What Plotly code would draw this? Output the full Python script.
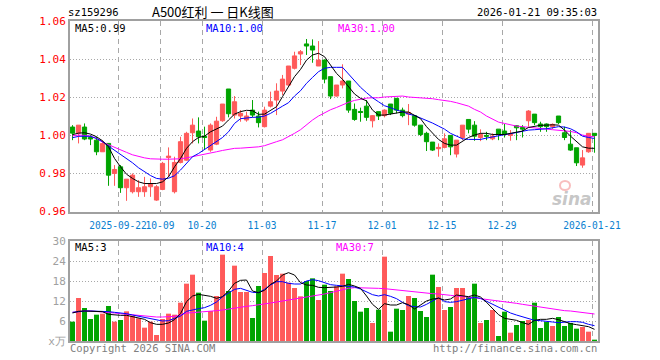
import plotly.graph_objects as go

# ---------------- data ----------------
dates = (
    ["2025-09-%s" % d for d in ["10", "11", "12", "15", "16", "17", "18", "19", "22", "23", "24", "25", "26", "29", "30"]]
    + ["2025-10-%s" % d for d in ["09", "10", "13", "14", "15", "16", "17", "20", "21", "22", "23", "24", "27", "28", "29", "30", "31"]]
    + ["2025-11-%s" % d for d in ["03", "04", "05", "06", "07", "10", "11", "12", "13", "14", "17", "18", "19", "20", "21", "24", "25", "26", "27", "28"]]
    + ["2025-12-%s" % d for d in ["01", "02", "03", "04", "05", "08", "09", "10", "11", "12", "15", "16", "17", "18", "19", "22", "23", "24", "25", "26", "29", "30", "31"]]
    + ["2026-01-%s" % d for d in ["05", "06", "07", "08", "09", "12", "13", "14", "15", "16", "19", "20", "21"]]
)

open_ = [1.0044, 1.0012, 1.0044, 0.9989, 0.9975, 0.9914, 0.9958, 0.9800, 0.9835, 0.9725,
         0.9704, 0.9704, 0.9704, 0.9730, 0.9660, 0.9716, 0.9884, 0.9704, 0.9858, 0.9870,
         1.0014, 1.0023, 0.9996, 0.9923, 0.9954, 1.0077, 1.0244, 1.0107, 1.0102, 1.0081,
         1.0133, 1.0102, 1.0046, 1.0154, 1.0186, 1.0233, 1.0265, 1.0353, 1.0428, 1.0481,
         1.0470, 1.0365, 1.0396, 1.0309, 1.0207, 1.0265, 1.0286, 1.0137, 1.0126, 1.0154,
         1.0077, 1.0125, 1.0104, 1.0165, 1.0195, 1.0133, 1.0112, 1.0104, 1.0054, 1.0011,
         0.9965, 0.9930, 0.9937, 1.0000, 0.9902, 0.9989, 1.0084, 1.0054, 0.9989, 1.0000,
         0.9982, 1.0033, 1.0023, 1.0000, 1.0051, 1.0042, 1.0077, 1.0112, 1.0060, 1.0060,
         1.0046, 1.0102, 1.0014, 0.9954, 0.9935, 0.9844, 0.9914, 1.0011]
high = [1.0054, 1.0054, 1.0063, 1.0002, 0.9993, 0.9975, 0.9958, 0.9844, 0.9844, 0.9770,
        0.9800, 0.9765, 0.9782, 0.9774, 0.9739, 0.9861, 0.9937, 0.9888, 0.9993, 1.0019,
        1.0089, 1.0095, 1.0046, 1.0063, 1.0098, 1.0165, 1.0244, 1.0207, 1.0133, 1.0125,
        1.0186, 1.0125, 1.0151, 1.0230, 1.0274, 1.0318, 1.0365, 1.0440, 1.0449, 1.0507,
        1.0505, 1.0496, 1.0400, 1.0309, 1.0265, 1.0374, 1.0286, 1.0168, 1.0146, 1.0186,
        1.0107, 1.0125, 1.0137, 1.0165, 1.0195, 1.0146, 1.0165, 1.0107, 1.0054, 1.0019,
        0.9965, 0.9958, 1.0011, 1.0000, 0.9975, 1.0054, 1.0084, 1.0075, 1.0032, 1.0019,
        1.0011, 1.0033, 1.0060, 1.0028, 1.0054, 1.0054, 1.0133, 1.0112, 1.0072, 1.0063,
        1.0063, 1.0102, 1.0046, 1.0028, 0.9935, 0.9923, 1.0011, 1.0011]
low = [0.9975, 0.9958, 0.9975, 0.9949, 0.9896, 0.9914, 0.9735, 0.9735, 0.9698, 0.9656,
       0.9695, 0.9677, 0.9677, 0.9677, 0.9656, 0.9712, 0.9782, 0.9695, 0.9853, 0.9867,
       0.9958, 0.9958, 0.9923, 0.9914, 0.9949, 1.0072, 1.0095, 1.0089, 1.0072, 1.0072,
       1.0095, 1.0042, 1.0042, 1.0147, 1.0107, 1.0212, 1.0261, 1.0347, 1.0370, 1.0423,
       1.0382, 1.0365, 1.0274, 1.0191, 1.0204, 1.0247, 1.0119, 1.0077, 1.0072, 1.0077,
       1.0042, 1.0081, 1.0095, 1.0107, 1.0116, 1.0095, 1.0054, 1.0046, 0.9996, 0.9918,
       0.9918, 0.9888, 0.9932, 0.9896, 0.9884, 0.9975, 1.0011, 0.9972, 0.9970, 0.9975,
       0.9975, 0.9975, 0.9989, 0.9972, 0.9975, 0.9989, 1.0046, 1.0054, 1.0019, 1.0019,
       1.0033, 1.0060, 0.9975, 0.9919, 0.9839, 0.9830, 0.9909, 0.9909]
close = [1.0012, 1.0054, 0.9981, 0.9981, 0.9914, 0.9958, 0.9791, 0.9821, 0.9725, 0.9770,
         0.9791, 0.9725, 0.9730, 0.9744, 0.9730, 0.9853, 0.9891, 0.9858, 0.9967, 1.0011,
         1.0054, 0.9993, 0.9989, 1.0054, 1.0075, 1.0165, 1.0114, 1.0177, 1.0116, 1.0102,
         1.0107, 1.0067, 1.0133, 1.0177, 1.0233, 1.0296, 1.0365, 1.0418, 1.0440, 1.0470,
         1.0449, 1.0396, 1.0296, 1.0207, 1.0265, 1.0286, 1.0133, 1.0084, 1.0121, 1.0095,
         1.0104, 1.0102, 1.0133, 1.0116, 1.0133, 1.0104, 1.0121, 1.0054, 1.0005, 0.9967,
         0.9923, 0.9937, 0.9982, 0.9940, 0.9975, 1.0054, 1.0033, 0.9996, 1.0005, 0.9996,
         0.9996, 1.0005, 1.0005, 1.0005, 1.0040, 1.0033, 1.0128, 1.0067, 1.0046, 1.0046,
         1.0058, 1.0067, 0.9989, 0.9923, 0.9856, 0.9882, 1.0011, 1.0000]

ma5 = [1.0004, 1.0012, 1.0014, 1.0007, 0.9993, 0.9972, 0.9940, 0.9879, 0.9835, 0.9796,
       0.9774, 0.9756, 0.9747, 0.9747, 0.9747, 0.9756, 0.9782, 0.9835, 0.9879, 0.9932,
       0.9967, 0.9989, 0.9996, 1.0019, 1.0033, 1.0049, 1.0081, 1.0112, 1.0125, 1.0132,
       1.0130, 1.0111, 1.0112, 1.0130, 1.0151, 1.0204, 1.0256, 1.0309, 1.0347, 1.0396,
       1.0423, 1.0432, 1.0414, 1.0370, 1.0326, 1.0295, 1.0256, 1.0218, 1.0195, 1.0182,
       1.0133, 1.0107, 1.0107, 1.0112, 1.0119, 1.0123, 1.0123, 1.0107, 1.0088, 1.0046,
       1.0011, 0.9979, 0.9958, 0.9949, 0.9949, 0.9970, 0.9989, 1.0002, 1.0011, 1.0011,
       1.0005, 1.0005, 1.0005, 1.0011, 1.0016, 1.0023, 1.0042, 1.0049, 1.0053, 1.0054,
       1.0056, 1.0054, 1.0028, 0.9996, 0.9967, 0.9940, 0.9933, 0.9932]
ma10 = [0.9988, 0.9995, 0.9996, 0.9995, 0.9984, 0.9967, 0.9944, 0.9923, 0.9900, 0.9879,
        0.9856, 0.9830, 0.9809, 0.9789, 0.9774, 0.9770, 0.9775, 0.9788, 0.9818, 0.9853,
        0.9888, 0.9905, 0.9926, 0.9949, 0.9970, 0.9989, 1.0019, 1.0063, 1.0088, 1.0093,
        1.0095, 1.0096, 1.0102, 1.0116, 1.0133, 1.0154, 1.0172, 1.0207, 1.0235, 1.0274,
        1.0305, 1.0335, 1.0353, 1.0358, 1.0358, 1.0358, 1.0323, 1.0288, 1.0253, 1.0225,
        1.0198, 1.0177, 1.0156, 1.0146, 1.0133, 1.0125, 1.0112, 1.0105, 1.0093, 1.0081,
        1.0065, 1.0049, 1.0033, 1.0011, 0.9996, 0.9982, 0.9979, 0.9979, 0.9979, 0.9986,
        0.9993, 0.9998, 1.0004, 1.0009, 1.0016, 1.0023, 1.0028, 1.0030, 1.0032, 1.0035,
        1.0040, 1.0046, 1.0044, 1.0035, 1.0019, 0.9996, 0.9989, 0.9984]
ma30 = [0.9998, 1.0002, 1.0000, 0.9996, 0.9984, 0.9965, 0.9951, 0.9939, 0.9925, 0.9911,
        0.9898, 0.9889, 0.9882, 0.9877, 0.9875, 0.9875, 0.9875, 0.9875, 0.9877, 0.9882,
        0.9888, 0.9893, 0.9898, 0.9905, 0.9914, 0.9921, 0.9926, 0.9932, 0.9933, 0.9935,
        0.9937, 0.9940, 0.9946, 0.9958, 0.9967, 0.9977, 0.9993, 1.0011, 1.0030, 1.0056,
        1.0081, 1.0102, 1.0119, 1.0135, 1.0147, 1.0161, 1.0174, 1.0184, 1.0191, 1.0196,
        1.0198, 1.0198, 1.0202, 1.0204, 1.0207, 1.0207, 1.0202, 1.0200, 1.0198, 1.0196,
        1.0193, 1.0188, 1.0184, 1.0179, 1.0172, 1.0165, 1.0154, 1.0137, 1.0123, 1.0102,
        1.0084, 1.0070, 1.0063, 1.0054, 1.0049, 1.0046, 1.0042, 1.0039, 1.0035, 1.0033,
        1.0030, 1.0028, 1.0026, 1.0021, 1.0014, 1.0002, 0.9996, 0.9993]

volume = [5.8, 12.9, 9.9, 6.6, 7.9, 8.2, 10.5, 5.8, 6.3, 8.9,
          7.6, 6.8, 4.0, 5.8, 1.8, 6.6, 8.2, 7.9, 11.5, 17.2,
          19.9, 14.5, 6.1, 9.0, 13.5, 25.9, 15.0, 22.6, 14.7, 14.7,
          6.9, 16.5, 20.4, 25.5, 19.8, 20.2, 17.5, 15.9, 13.4, 18.0,
          18.8, 12.3, 16.9, 15.0, 16.4, 20.2, 18.6, 12.0, 8.8, 9.9,
          5.4, 9.4, 25.3, 2.8, 9.7, 9.3, 13.5, 12.9, 9.0, 7.2,
          19.9, 16.2, 9.3, 10.2, 15.9, 15.9, 13.2, 17.2, 5.4, 6.3,
          9.3, 1.5, 8.8, 2.5, 4.8, 6.0, 6.3, 11.5, 3.9, 5.7,
          4.5, 7.2, 4.5, 5.4, 3.7, 4.2, 2.8, 0.4]
vma5 = [8.4, 8.9, 9.0, 9.0, 9.0, 8.8, 8.0, 7.8, 7.7, 7.7,
        7.3, 6.9, 6.5, 5.5, 5.0, 5.0, 5.4, 6.4, 8.2, 11.8,
        13.5, 14.0, 13.7, 13.4, 12.8, 13.3, 15.0, 17.3, 18.2, 18.3,
        15.0, 14.5, 15.2, 17.0, 18.0, 19.8, 20.5, 19.8, 17.5, 16.8,
        16.7, 16.1, 16.0, 16.0, 16.2, 16.4, 17.0, 16.5, 15.8, 13.5,
        11.0, 9.5, 11.2, 10.8, 10.8, 11.5, 10.9, 9.6, 10.8, 12.0,
        12.6, 12.8, 12.3, 12.6, 13.8, 13.5, 13.3, 13.8, 13.2, 11.6,
        9.7, 7.9, 6.8, 6.4, 6.2, 5.5, 5.0, 6.2, 6.5, 6.5,
        6.8, 6.4, 5.8, 5.2, 4.9, 4.7, 4.3, 3.5]
vma10 = [8.6, 8.9, 9.0, 9.0, 9.0, 8.9, 8.8, 8.6, 8.5, 8.2,
         7.8, 7.4, 7.0, 6.6, 6.2, 6.0, 6.1, 6.8, 7.5, 8.9,
         9.4, 9.7, 10.0, 10.7, 11.7, 13.3, 14.4, 15.5, 15.8, 15.2,
         14.6, 14.5, 15.5, 16.8, 17.8, 17.8, 17.3, 17.1, 17.1, 18.0,
         18.4, 18.1, 17.4, 16.9, 16.7, 16.6, 16.5, 16.2, 15.6, 14.7,
         13.9, 13.5, 13.9, 13.4, 12.7, 11.6, 10.6, 10.3, 10.2, 11.0,
         11.9, 13.0, 11.8, 11.6, 11.8, 12.3, 12.8, 13.1, 12.8, 11.9,
         11.0, 10.3, 9.3, 8.4, 7.8, 7.2, 6.8, 6.2, 6.1, 6.0,
         5.7, 5.5, 5.7, 5.8, 5.8, 5.6, 5.0, 4.6]
vma30 = [8.6, 8.9, 9.0, 9.0, 8.9, 8.8, 8.6, 8.4, 8.2, 8.0,
         7.8, 7.6, 7.4, 7.3, 7.2, 7.2, 7.2, 7.4, 7.8, 8.4,
         8.5, 8.6, 8.7, 8.9, 9.1, 9.3, 9.6, 10.0, 10.2, 10.4,
         10.6, 10.8, 11.1, 11.4, 11.7, 12.0, 12.2, 12.4, 12.7, 13.0,
         13.4, 13.7, 14.1, 14.5, 15.0, 15.4, 15.8, 16.0, 16.0, 15.9,
         15.8, 15.8, 15.7, 15.5, 15.2, 15.0, 14.8, 14.6, 14.5, 14.4,
         14.2, 14.1, 14.0, 13.7, 13.5, 13.4, 13.2, 13.0, 12.7, 12.5,
         12.3, 12.1, 11.9, 11.6, 11.3, 11.0, 10.7, 10.4, 10.1, 9.9,
         9.7, 9.4, 9.1, 9.0, 8.8, 8.6, 8.4, 8.1]

tick_dates = ["2025-09-22", "2025-10-09", "2025-10-20", "2025-11-03", "2025-11-17",
              "2025-12-01", "2025-12-15", "2025-12-29", "2026-01-21"]
tick_labels = ["2025-09-22", "10-09", "10-20", "11-03", "11-17", "12-01", "12-15", "12-29", "2026-01-21"]
price_ticks = [0.96, 0.98, 1.00, 1.02, 1.04, 1.06]
vol_ticks = [0, 6, 12, 18, 24, 30]
vol_tick_labels = ["x万", "6", "12", "18", "24", "30"]

title_code = "sz159296"
title_name = "A500红利 一 日K线图"
timestamp = "2026-01-21 09:35:03"
ma_price_labels = ["MA5:0.99", "MA10:1.00", "MA30:1.00"]
ma_vol_labels = ["MA5:3", "MA10:4", "MA30:7"]

# ---------------- styling ----------------
W, H = 660, 360
RED, GREEN = "#ff5a5a", "#00a400"
C5, C10, C30 = "#000000", "#0000ff", "#ff00ff"
GRID = "#a8a8a8"
MONO = "DejaVu Sans Mono"
TICKBLUE = "#0a7fd0"

x = list(range(len(dates)))
xoff = -0.42  # grid line sits on the candle's left edge
tickpos = [dates.index(d) + xoff for d in tick_dates]
xrange_ = [-0.42, len(dates) - 0.42]

def px(v):
    return v / W

def py(v):
    return 1 - v / H

fig = go.Figure()

fig.add_trace(go.Candlestick(
    x=x, open=open_, high=high, low=low, close=close,
    increasing=dict(line=dict(color=RED, width=1), fillcolor=RED),
    decreasing=dict(line=dict(color=GREEN, width=1), fillcolor=GREEN),
    whiskerwidth=0, showlegend=False, hoverinfo="skip",
    xaxis="x", yaxis="y"))

for ys, c in [(ma30, C30), (ma10, C10), (ma5, C5)]:
    fig.add_trace(go.Scatter(x=x, y=ys, mode="lines", line=dict(color=c, width=1),
                             showlegend=False, hoverinfo="skip", xaxis="x", yaxis="y"))

vcolors = [RED if c >= o else GREEN for o, c in zip(open_, close)]
fig.add_trace(go.Bar(x=x, y=volume, marker=dict(color=vcolors, line=dict(width=0)),
                     width=0.83, showlegend=False, hoverinfo="skip", xaxis="x2", yaxis="y2"))
for ys, c in [(vma30, C30), (vma10, C10), (vma5, C5)]:
    fig.add_trace(go.Scatter(x=x, y=ys, mode="lines", line=dict(color=c, width=1),
                             showlegend=False, hoverinfo="skip", xaxis="x2", yaxis="y2"))

xdom = [px(70), px(598)]
common_x = dict(range=xrange_, tickvals=tickpos, showgrid=True, gridcolor=GRID,
                griddash="5px,4px", gridwidth=1, zeroline=False, showline=True,
                linecolor="#a0a0a0", linewidth=2, mirror=True, ticks="",
                fixedrange=True, automargin=False, tickangle=0)
fig.update_layout(
    width=W, height=H, margin=dict(l=0, r=0, t=0, b=0, autoexpand=False),
    paper_bgcolor="white", plot_bgcolor="white",
    boxgap=0.3, boxgroupgap=0,
    xaxis=dict(domain=xdom, ticktext=tick_labels, showticklabels=True,
               tickfont=dict(family=MONO, size=9.6, color=TICKBLUE),
               ticklabelstandoff=4,
               rangeslider=dict(visible=False), anchor="y", **common_x),
    xaxis2=dict(domain=xdom, showticklabels=False, anchor="y2", matches="x", **common_x),
    yaxis=dict(domain=[py(211.5), py(21.3)], range=[0.96, 1.06], tickvals=price_ticks,
               ticktext=["%.2f" % v for v in price_ticks],
               tickfont=dict(family=MONO, size=11, color="#ff0000"),
               showgrid=True, gridcolor=GRID, griddash="1px,2px", zeroline=False,
               showline=True, linecolor="#a0a0a0", linewidth=2, mirror=True,
               ticks="", anchor="x", fixedrange=True, automargin=False),
    yaxis2=dict(domain=[py(341), py(241)], range=[0, 30], tickvals=vol_ticks,
                ticktext=vol_tick_labels,
                tickfont=dict(family=MONO, size=11, color="#a0a0a0"),
                showgrid=True, gridcolor=GRID, griddash="1px,2px", zeroline=False,
                showline=True, linecolor="#a0a0a0", linewidth=2, mirror=True,
                ticks="", anchor="x2", fixedrange=True, automargin=False),
)

ann = []
def text(t, xp, yp, color="#000", size=10.5, family=MONO, xanchor="left"):
    ann.append(dict(text=t, x=px(xp), y=py(yp), xref="paper", yref="paper",
                    xanchor=xanchor, yanchor="middle", showarrow=False,
                    font=dict(family=family, size=size, color=color)))

text(title_code, 66, 12)
text(title_name, 150, 12, size=13, family="Noto Sans CJK SC")
text(timestamp, 599, 12, xanchor="right")
for lbl, xp, c in zip(ma_price_labels, [73, 204, 336], [C5, C10, C30]):
    text(lbl, xp, 28, color=c)
for lbl, xp, c in zip(ma_vol_labels, [73, 204, 334], [C5, C10, C30]):
    text(lbl, xp, 247, color=c)
text("Copyright 2026 SINA.COM", 68, 348, color="#808080")
text("http://finance.sina.com.cn", 599, 348, color="#808080", xanchor="right")
ann.append(dict(text="<b><i>sina</i></b>", x=px(572), y=py(199), xref="paper", yref="paper",
                xanchor="center", yanchor="middle", showarrow=False,
                font=dict(family="DejaVu Sans", size=17, color="rgba(150,150,150,0.55)")))
fig.update_layout(annotations=ann)
fig.add_shape(type="circle", xref="paper", yref="paper",
              x0=px(560), x1=px(570), y0=py(190), y1=py(181),
              line=dict(color="rgba(240,110,110,0.45)", width=2), fillcolor="rgba(0,0,0,0)")

fig.write_html("out.html", config={"displayModeBar": False, "staticPlot": True},
               post_script="document.body.style.margin='0';document.body.style.overflow='hidden';")
